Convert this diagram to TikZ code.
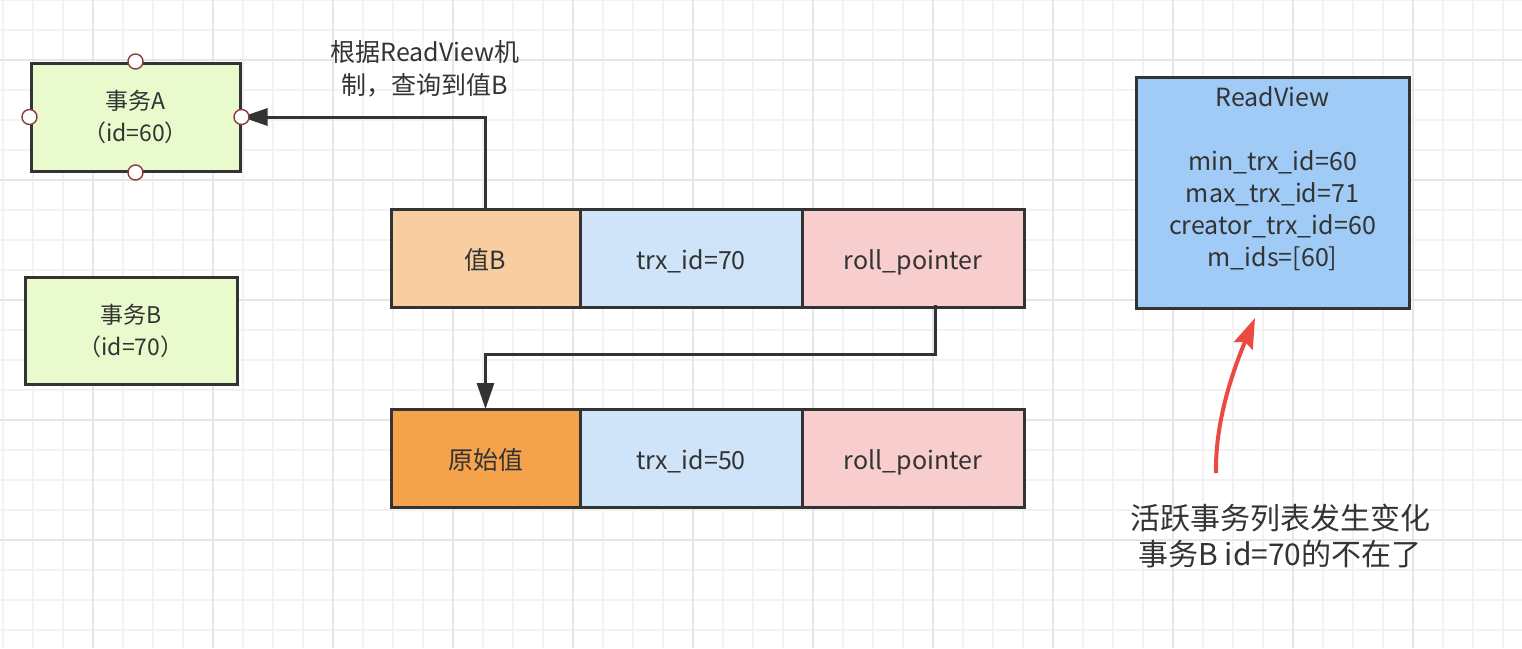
\documentclass[tikz,border=0pt]{standalone}
\usepackage{fontspec}
\setmainfont{Noto Sans CJK SC}
\usepackage{tikz}
\usetikzlibrary{shapes, arrows.meta, positioning}
\definecolor{ink}{HTML}{333333}
\definecolor{edge}{HTML}{333333}
\definecolor{trxgreen}{HTML}{E9FACC}
\definecolor{peach}{HTML}{F8CEA0}
\definecolor{deeporange}{HTML}{F5A24C}
\definecolor{idblue}{HTML}{D0E4F9}
\definecolor{ptrpink}{HTML}{F7CECD}
\definecolor{viewblue}{HTML}{9FCBF6}
\definecolor{portred}{HTML}{8B3A3A}
\definecolor{alertred}{HTML}{EA4A40}
\definecolor{gridminor}{HTML}{F2F2F2}
\definecolor{gridmajor}{HTML}{E6E6E6}
\tikzstyle{trx} = [rectangle, draw=edge, line width=3pt, fill=trxgreen,
    text=ink, align=center, minimum width=209pt, minimum height=108pt,
    font=\fontsize{23}{32}\selectfont]
\tikzstyle{cell} = [rectangle, draw=edge, line width=3pt, outer sep=0pt,
    text=ink, minimum height=98pt, text height=23pt, text depth=0pt,
    font=\fontsize{25}{32}\selectfont]
\tikzstyle{valcell} = [cell, minimum width=189pt]
\tikzstyle{idcell} = [cell, fill=idblue, minimum width=222pt]
\tikzstyle{ptrcell} = [cell, fill=ptrpink, minimum width=222pt]
\tikzstyle{view} = [rectangle, draw=edge, line width=3pt, fill=viewblue,
    text=ink, align=center, minimum width=273pt, minimum height=231pt,
    font=\fontsize{25}{32}\selectfont]
\tikzstyle{port} = [circle, draw=portred, fill=white, line width=1.4pt,
    inner sep=0pt, minimum size=15pt]
\tikzstyle{hint} = [text=ink, align=center, font=\fontsize{25}{33}\selectfont]
\tikzstyle{remark} = [text=ink, align=center, font=\fontsize{30}{36}\selectfont]
\tikzstyle{line} = [draw=edge, line width=3pt, -{Triangle[length=26pt, width=17pt]}]
\tikzstyle{redline} = [draw=alertred, line width=4pt, -{Stealth[length=30pt, width=20pt, inset=4pt]}]

\begin{document}
\begin{tikzpicture}[x=1pt, y=-1pt]
    \useasboundingbox (0,0) rectangle (1522,648);
    % Grid
    \foreach \gx in {3,33,...,1503} \draw [gridminor, line width=1.2pt] (\gx,0) -- (\gx,648);
    \foreach \gy in {0,30,...,630} \draw [gridminor, line width=1.2pt] (0,\gy) -- (1522,\gy);
    \foreach \gx in {93,213,...,1503} \draw [gridmajor, line width=1.2pt] (\gx,0) -- (\gx,648);
    \foreach \gy in {60,180,...,540} \draw [gridmajor, line width=1.2pt] (0,\gy) -- (1522,\gy);
    % Nodes
    \node [trx] (trxa) at (135.5,117) {事务A\\（id=60）};
    \node [trx, minimum width=212pt, minimum height=107pt] (trxb) at (131,330.5) {事务B\\（id=70）};
    \node [valcell, fill=peach] (valb) at (485.5,258) {值B};
    \node [idcell, right=0pt of valb] (idnew) {trx\_id=70};
    \node [ptrcell, right=0pt of idnew] (ptrnew) {roll\_pointer};
    \node [valcell, fill=deeporange] (orig) at (485.5,458) {原始值};
    \node [idcell, right=0pt of orig] (idold) {trx\_id=50};
    \node [ptrcell, right=0pt of idold] (ptrold) {roll\_pointer};
    \node [view] (view) at (1272.5,192.5) {ReadView\\~\\min\_trx\_id=60\\max\_trx\_id=71\\creator\_trx\_id=60\\m\_ids=[60]\\~};
    \node [hint] (readhint) at (425,69) {根据ReadView机\\制，查询到值B};
    \node [remark] (change) at (1280,536) {活跃事务列表发生变化\\事务B id=70的不在了};
    \coordinate (ptrfoot) at ([xshift=22pt, yshift=2pt]ptrnew.south);
    \coordinate (redtail) at (1216,473);
    \coordinate (redhead) at (1255,318);
    % Edges
    \path [line] (valb.north) |- (trxa.east);
    \path [line] (ptrfoot) -- ++(0,49) -| (orig.north);
    \path [redline] (redtail) .. controls (1215,420) and (1234,368) .. (redhead);
    % Ports
    \foreach \side in {north, south, east, west}
        \node [port] at (trxa.\side) {};
\end{tikzpicture}
\end{document}
